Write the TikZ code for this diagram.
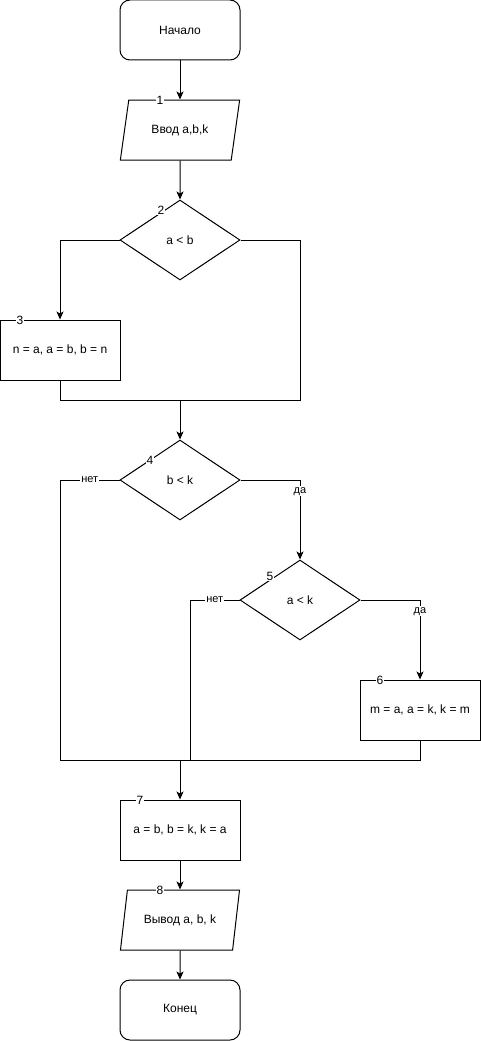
\documentclass[tikz,border=0pt]{standalone}
\usepackage{fontspec}
\setmainfont{Liberation Sans}
\usetikzlibrary{shapes.geometric,arrows.meta}
\tikzset{
  blk/.style={draw,line width=1pt,minimum width=120pt,minimum height=60pt,inner sep=2pt,font=\fontsize{12}{14}\selectfont},
  term/.style={blk,rounded corners=10pt},
  proc/.style={blk},
  io/.style={blk,trapezium,trapezium left angle=71.57,trapezium right angle=108.43,trapezium stretches=true},
  cond/.style={blk,diamond,minimum height=80pt,inner sep=0pt},
  num/.style={fill=white,inner sep=0.5pt,font=\fontsize{12}{14}\selectfont},
  lbl/.style={fill=white,inner sep=1pt,font=\fontsize{11}{13}\selectfont},
  arr/.style={-{Stealth[length=8pt,width=7pt,inset=2pt]}},
}
\begin{document}
\begin{tikzpicture}[x=1pt,y=-1pt,line width=1pt]
  \useasboundingbox (0,0) rectangle (481,1041);
  % blocks
  \node[term] (start) at (180,30) {Начало};
  \node[io]   (inp)   at (180,130) {Ввод a,b,k};
  \node[cond] (c2)    at (180,240) {a < b};
  \node[proc] (p3)    at (60,350) {n = a, a = b, b = n};
  \node[cond] (c4)    at (180,480) {b < k};
  \node[cond] (c5)    at (300,600) {a < k};
  \node[proc] (p6)    at (420,710) {m = a, a = k, k = m};
  \node[proc] (p7)    at (180,830) {a = b, b = k, k = a};
  \node[io]   (out)   at (180,920) {Вывод a, b, k};
  \node[term] (stop)  at (180,1010) {Конец};
  \coordinate (j1) at (180,400);
  \coordinate (r1) at (300,400);
  \coordinate (l1) at (60,760);
  \coordinate (l2) at (190,760);
  \coordinate (j2) at (180,760);
  % lines
  \draw[arr] (start) -- (inp);
  \draw[arr] (inp) -- (c2);
  \draw[arr] (c2.west) -| (p3);
  \draw (c2.east) -| (r1) -- (p3.south |- r1) -- (p3.south);
  \draw[arr] (j1) -- (c4);
  \draw (c4.west) -| node[lbl,pos=0.25] (no4) {нет} (l1);
  \draw[arr] (c4.east) -| node[lbl,pos=0.57] (yes4) {да} (c5);
  \draw (c5.west) -| node[lbl,pos=0.25] (no5) {нет} (l2);
  \draw[arr] (c5.east) -| node[lbl,pos=0.57] (yes5) {да} (p6);
  \draw (p6.south) |- (l1);
  \draw[arr] (j2) -- (p7);
  \draw[arr] (p7) -- (out);
  \draw[arr] (out) -- (stop);
  % numbers
  \node[num] (n1) at (160,100) {1};
  \node[num] (n2) at (161,210) {2};
  \node[num] (n3) at (20,320) {3};
  \node[num] (n4) at (150,460) {4};
  \node[num] (n5) at (270,576) {5};
  \node[num] (n6) at (380,680) {6};
  \node[num] (n7) at (140,800) {7};
  \node[num] (n8) at (160,890) {8};
\end{tikzpicture}
\end{document}
